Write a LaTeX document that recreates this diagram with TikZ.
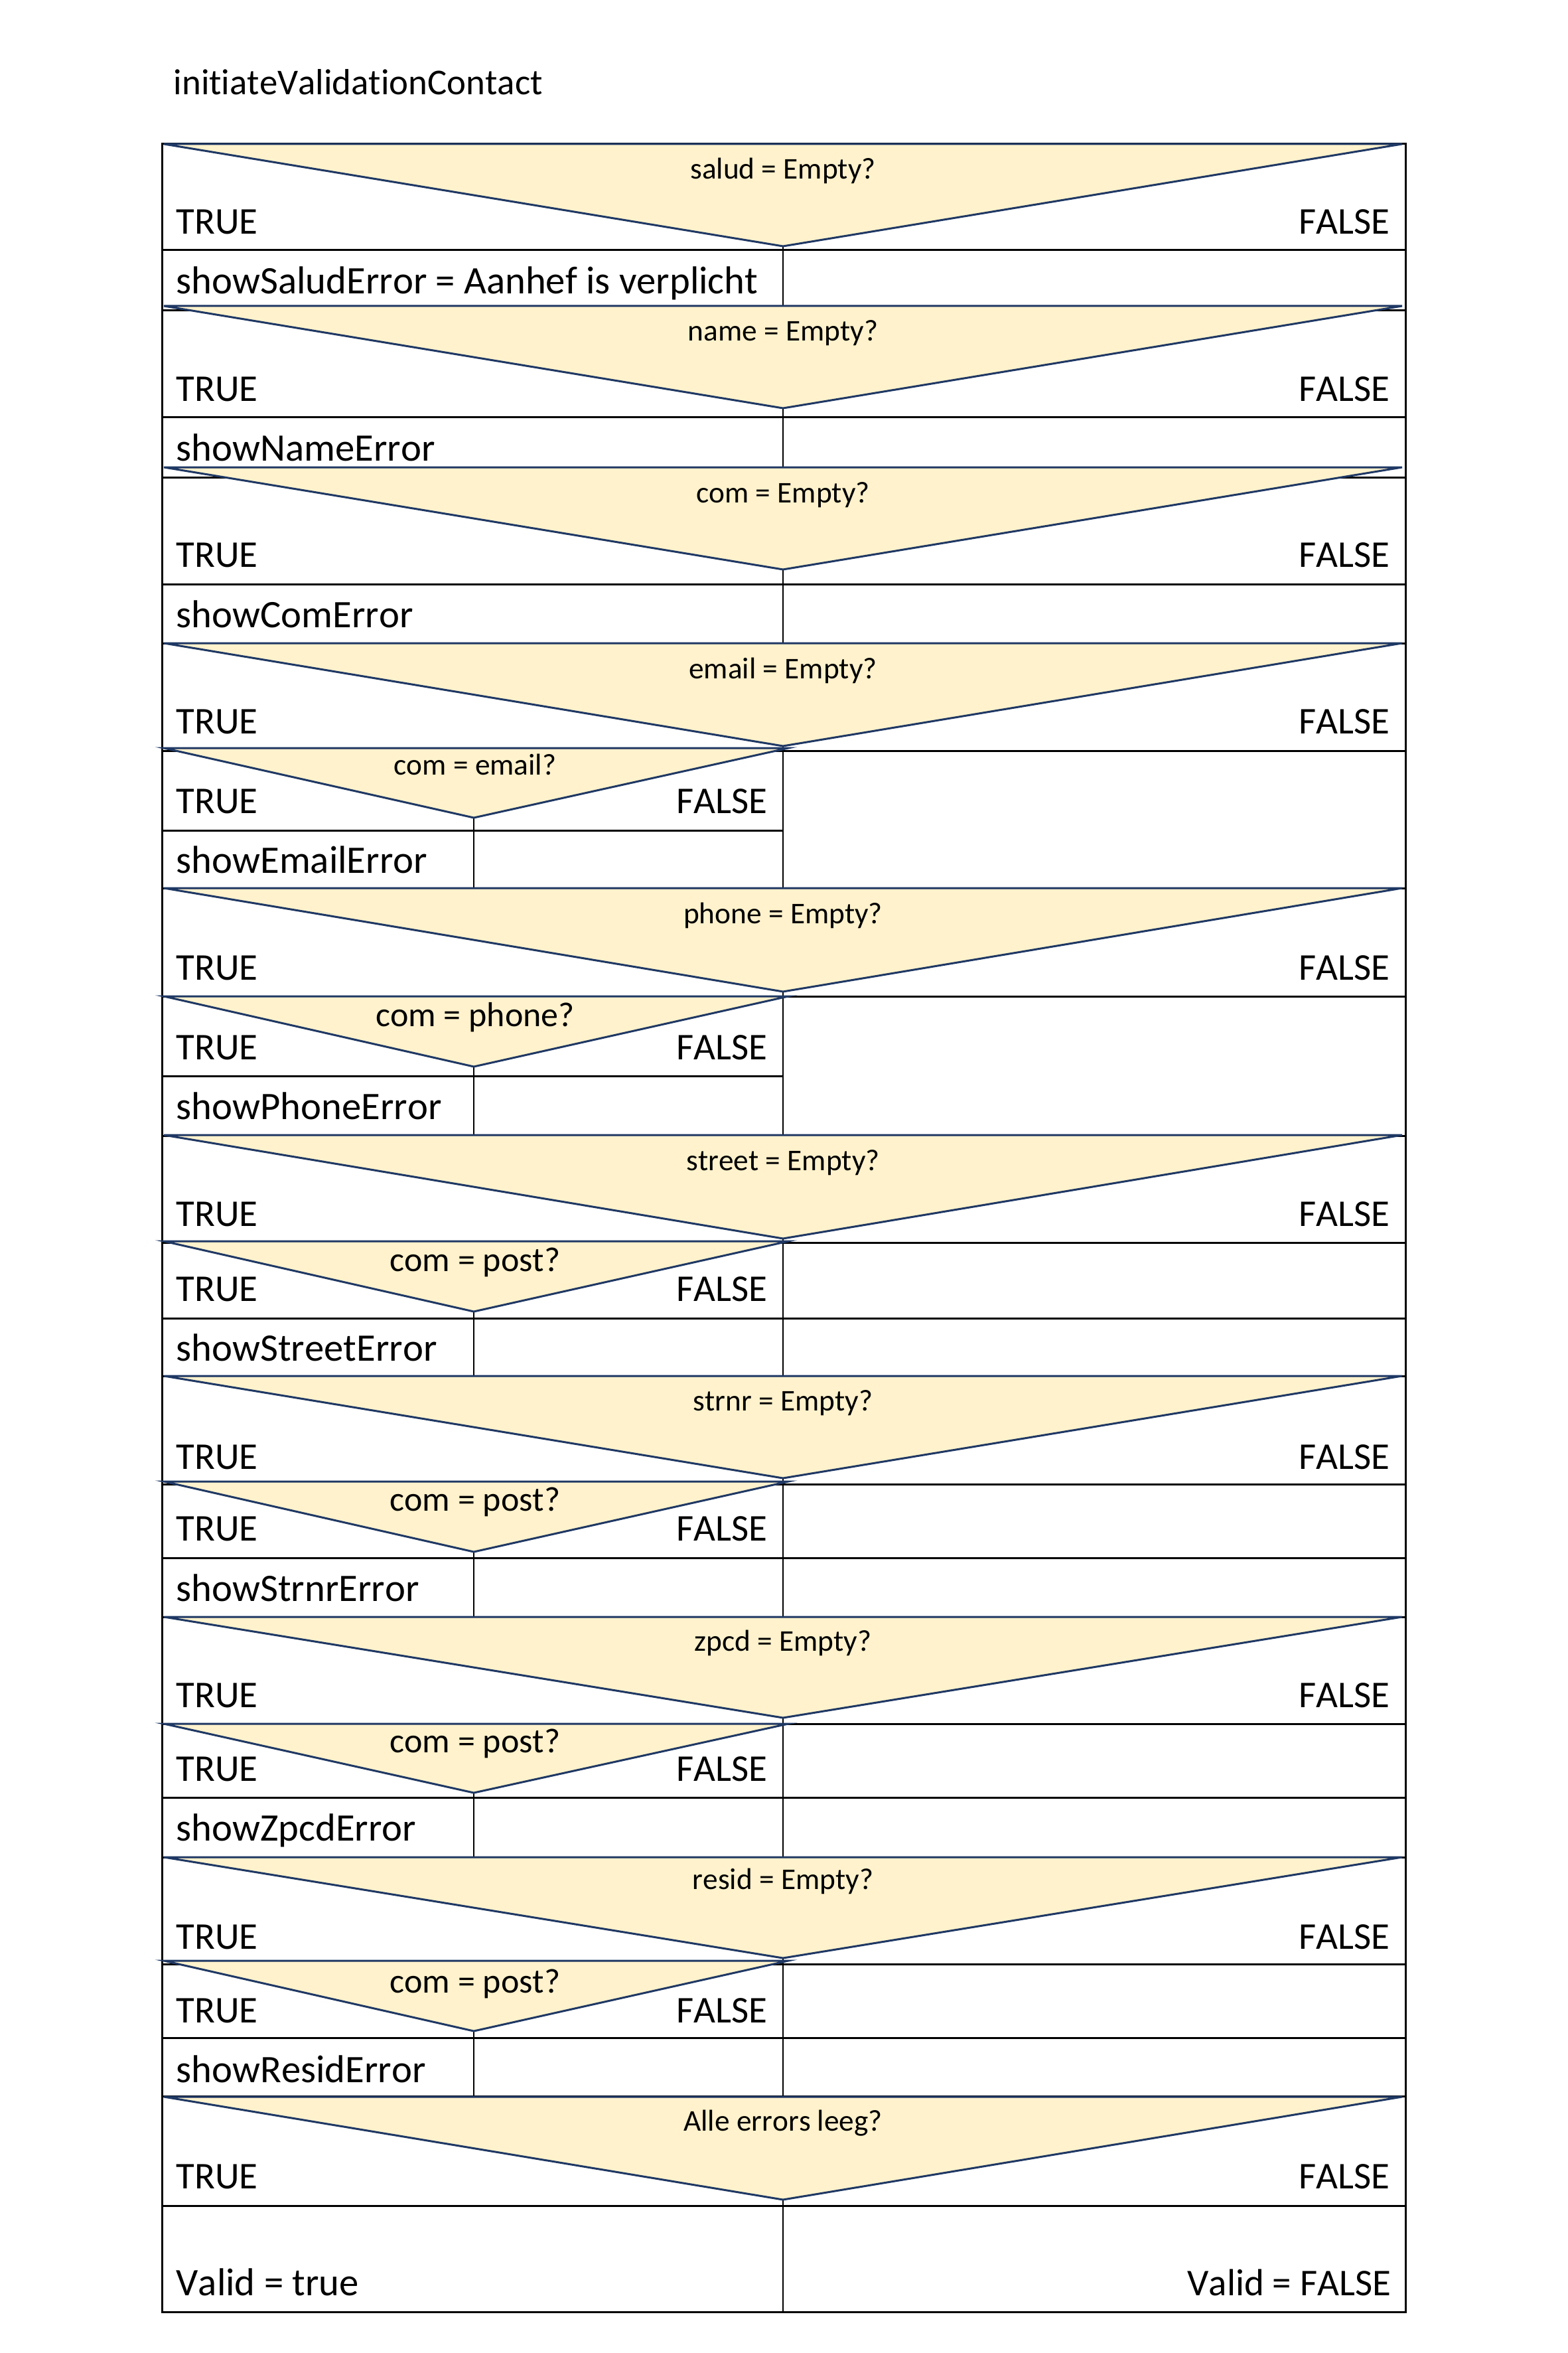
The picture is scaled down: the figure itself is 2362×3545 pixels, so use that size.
\documentclass[tikz,border=0pt]{standalone}
\usepackage{fontspec}
\setmainfont{Carlito}[Ligatures=NoCommon, Kerning=Off]
\usepackage{xcolor}
\usetikzlibrary{positioning}

\definecolor{cream}{HTML}{FFF2CC}
\definecolor{navy}{HTML}{1F3864}

\begin{document}
\begin{tikzpicture}[
  x=0.1mm,
  y=-0.1mm,
  grid/.style={line width=0.3mm},
  thin/.style={line width=0.2mm},
  cond/.style={draw=navy, fill=cream, line width=0.3mm},
  big/.style={inner sep=0pt, font=\fontsize{16.2}{19}\selectfont},
  action/.style={inner sep=0pt, anchor=base west, font=\fontsize{16.7}{20}\selectfont}
]
\useasboundingbox (0,0) rectangle (2362,3545);

% Title
\node[inner sep=0pt, anchor=base west, font=\fontsize{15.6}{18}\selectfont] (title) at (261,143) {initiateValidationContact};

% Frame and row lines
\draw[grid] (244,217) rectangle (2118,3483);
\foreach \y in {377,468,629,719,880,969,1131,1338,1501,1711,1872,1986,2073,2236,2347,2436,2597,2708,2798,2959,3070,3158,3323}
  \draw[grid] (244,\y) -- (2118,\y);
\foreach \y in {1251,1621}
  \draw[grid] (244,\y) -- (1180,\y);

% Column lines
\draw[thin] (1180,217) -- (1180,3483);
\foreach \a/\b in {1232/1338,1607/1711,1976/2073,2338/2436,2701/2798,3060/3158}
  \draw[thin] (714,\a) -- (714,\b);

% Main conditions
\foreach \n/\t/\a/\q/\b/\txt in {
    salud/217/371/270/353/{salud = Empty?},
    name/461/615/514/604/{name = Empty?},
    com/704/858/757/854/{com = Empty?},
    email/969/1124/1022/1105/{email = Empty?},
    phone/1338/1494/1391/1476/{phone = Empty?},
    street/1710/1866/1763/1847/{street = Empty?},
    strnr/2073/2227/2125/2213/{strnr = Empty?},
    zpcd/2436/2588/2487/2572/{zpcd = Empty?},
    resid/2798/2950/2846/2936/{resid = Empty?},
    alle/3159/3314/3210/3297/{Alle errors leeg?}} {
  \draw[cond] (247,\t) -- (2113,\t) -- (1180,\a) -- cycle;
  \node[inner sep=0pt, anchor=base, font=\fontsize{12.9}{15}\selectfont] (\n) at (1180,\q) {\txt};
  \node[big, anchor=base west] (\n-t) at (265,\b) {TRUE};
  \node[big, anchor=base east] (\n-f) at (2095,\b) {FALSE};
}

% Nested conditions
\foreach \n/\t/\a/\q/\b/\fs/\txt in {
    mail/1127/1232/1167/1225/12.9/{com = email?},
    tel/1501/1607/1546/1596/14.8/{com = phone?},
    postA/1870/1976/1915/1960/14.8/{com = post?},
    postB/2232/2338/2276/2321/14.8/{com = post?},
    postC/2597/2701/2640/2683/14.8/{com = post?},
    postD/2954/3060/3002/3047/14.8/{com = post?}} {
  \draw[cond] (247,\t) -- (1188,\t) -- (714,\a) -- cycle;
  \node[inner sep=0pt, anchor=base, font=\fontsize{\fs}{18}\selectfont] (\n) at (716,\q) {\txt};
  \node[big, anchor=base west] (\n-t) at (265,\b) {TRUE};
  \node[big, anchor=base east] (\n-f) at (1157,\b) {FALSE};
}

% Actions
\node[action] (actSalud) at (265,443) {showSaludError = Aanhef is verplicht};
\node[action] (actName) at (265,694) {showNameError};
\node[action] (actCom) at (265,945) {showComError};
\node[action] (actEmail) at (265,1315) {showEmailError};
\node[action] (actPhone) at (265,1686) {showPhoneError};
\node[action] (actStreet) at (265,2050) {showStreetError};
\node[action] (actStrnr) at (265,2412) {showStrnrError};
\node[action] (actZpcd) at (265,2773) {showZpcdError};
\node[action] (actResid) at (265,3137) {showResidError};

% Result
\node[action] (validT) at (265,3458) {Valid = true};
\node[big, anchor=base east] (validF) at (2097,3458) {Valid = FALSE};

\end{tikzpicture}
\end{document}
